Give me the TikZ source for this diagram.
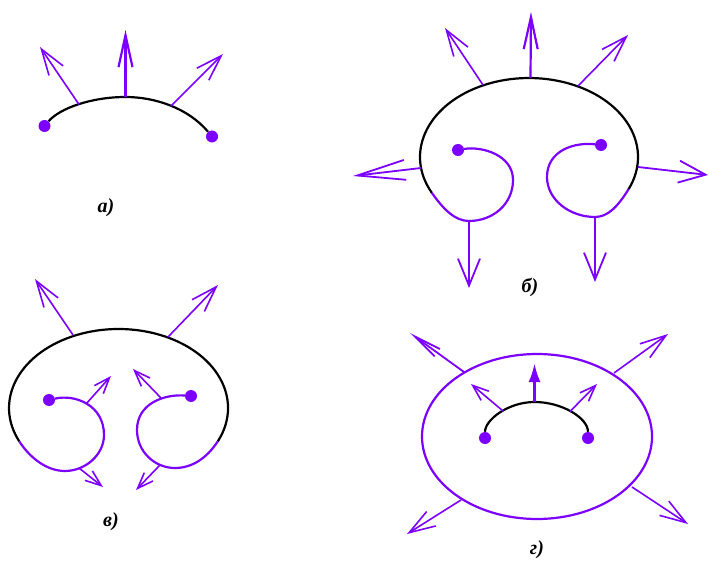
\documentclass[tikz,border=0pt]{standalone}
\usepackage{fontspec}
\setmainfont{Liberation Serif}
\usepackage{xcolor}
\usetikzlibrary{arrows.meta,shapes.geometric}
\definecolor{vecviolet}{RGB}{124,0,255}
\tikzset{
  vec/.style={-{Straight Barb[length=26pt,width=17pt]}, vecviolet, line width=1.6pt},
  vectop/.style={-{Straight Barb[length=32pt,width=14pt]}, vecviolet, line width=2.2pt},
  vecwide/.style={-{Straight Barb[length=27pt,width=22pt]}, vecviolet, line width=1.8pt},
  veclong/.style={-{Straight Barb[length=48pt,width=20pt]}, vecviolet, line width=1.8pt},
  vecslim/.style={-{Straight Barb[length=28pt,width=9pt]}, vecviolet, line width=1.8pt},
  vecsmall/.style={-{Straight Barb[length=16pt,width=12pt]}, vecviolet, line width=1.6pt},
  vecbold/.style={-{Latex[length=19pt,width=12pt]}, vecviolet, line width=3pt},
  fieldline/.style={black, line width=2.2pt},
  purpleline/.style={vecviolet, line width=2.2pt},
  endpt/.style={circle,fill=vecviolet,inner sep=0pt,minimum size=12pt},
  caption/.style={font=\bfseries\itshape\fontsize{20}{20}\selectfont,inner sep=0pt}
}

\begin{document}
\begin{tikzpicture}[x=1pt,y=-1pt]
  \useasboundingbox (0,0) rectangle (709,561);
  % а
  \node[endpt] (a0) at (44.5,126) {};
  \node[endpt] (a1) at (212,136.5) {};
  \coordinate (a2) at (79,104.5);
  \coordinate (a3) at (125.5,97);
  \coordinate (a4) at (171,106);
  \coordinate (a5) at (40,47);
  \coordinate (a6) at (125.5,30);
  \coordinate (a7) at (223,54);
  \draw[fieldline] (a0) .. controls (60,108) and (92,97) .. (a3) .. controls (155,97) and (188,108) .. (a1);
  \draw[vec] (a2) -- (a5);
  \draw[vectop] (a3) -- (a6);
  \draw[vec] (a4) -- (a7);
  \node[caption] (acap) at (106,208) {а)};
  % б
  \node[endpt] (b0) at (458,150) {};
  \node[endpt] (b1) at (601,145) {};
  \coordinate (b2) at (431.9,192.9);
  \coordinate (b3) at (628.6,189.1);
  \coordinate (b4) at (483,85);
  \coordinate (b5) at (530.5,78);
  \coordinate (b6) at (578,86);
  \coordinate (b7) at (421,168);
  \coordinate (b8) at (638,167);
  \coordinate (b9) at (469,221);
  \coordinate (b10) at (595,217);
  \coordinate (b11) at (445,28);
  \coordinate (b12) at (531,12);
  \coordinate (b13) at (628,35);
  \coordinate (b14) at (353,176);
  \coordinate (b15) at (708,175);
  \coordinate (b16) at (469,288);
  \coordinate (b17) at (595,282);
  \draw[fieldline] (b2) arc[start angle=153,end angle=384,x radius=109,y radius=79];
  \draw[purpleline] (b0) .. controls (482,146) and (513,155) .. (513,180) .. controls (513,204) and (493,221) .. (b9) .. controls (455,221) and (443.4,209.3) .. (b2);
  \draw[purpleline] (b1) .. controls (575,142) and (547,150) .. (547,177) .. controls (547,200) and (570,217) .. (b10) .. controls (608,217) and (618.1,206.1) .. (b3);
  \draw[vec] (b4) -- (b11);
  \draw[vectop] (b5) -- (b12);
  \draw[vec] (b6) -- (b13);
  \draw[veclong] (b7) -- (b14);
  \draw[vecwide] (b8) -- (b15);
  \draw[vecwide] (b9) -- (b16);
  \draw[vecwide] (b10) -- (b17);
  \node[caption] (bcap) at (530,287) {б)};
  % в
  \node[endpt] (c0) at (49,400) {};
  \node[endpt] (c1) at (191,396) {};
  \coordinate (c2) at (19.3,441.4);
  \coordinate (c3) at (217.7,441.4);
  \coordinate (c4) at (73,335);
  \coordinate (c5) at (168,337);
  \coordinate (c6) at (86,404);
  \coordinate (c7) at (161,398);
  \coordinate (c8) at (79,468);
  \coordinate (c9) at (160,465);
  \coordinate (c10) at (35,279);
  \coordinate (c11) at (218,285);
  \coordinate (c12) at (111,376);
  \coordinate (c13) at (133,369);
  \coordinate (c14) at (103,487);
  \coordinate (c15) at (136,490);
  \draw[fieldline] (c2) arc[start angle=155,end angle=385,x radius=109.5,y radius=79];
  \draw[purpleline] (c0) .. controls (75,394) and (104,405) .. (104,435) .. controls (104,455) and (85,471) .. (65,471) .. controls (47,471) and (30.2,458.2) .. (c2);
  \draw[purpleline] (c1) .. controls (165,394) and (137,403) .. (137,430) .. controls (137,452) and (155,468) .. (175,468) .. controls (192,468) and (206.8,458.2) .. (c3);
  \draw[vec] (c4) -- (c10);
  \draw[vec] (c5) -- (c11);
  \draw[vecsmall] (c6) -- (c12);
  \draw[vecsmall] (c7) -- (c13);
  \draw[vecsmall] (c8) -- (c14);
  \draw[vecsmall] (c9) -- (c15);
  \node[caption] (ccap) at (111,522) {в)};
  % г
  \node[ellipse,draw=vecviolet,line width=2.2pt,inner sep=0pt,minimum width=230pt,minimum height=165pt] (d0) at (537,436.5) {};
  \node[endpt] (d1) at (485,438) {};
  \node[endpt] (d2) at (588,438) {};
  \coordinate (d3) at (503,411);
  \coordinate (d4) at (534.5,402);
  \coordinate (d5) at (570,411.5);
  \coordinate (d6) at (464,372);
  \coordinate (d7) at (614,373);
  \coordinate (d8) at (461,500);
  \coordinate (d9) at (632,487);
  \coordinate (d10) at (410,333);
  \coordinate (d11) at (668,334);
  \coordinate (d12) at (407,534);
  \coordinate (d13) at (688,524);
  \coordinate (d14) at (471,384);
  \coordinate (d15) at (534.5,363);
  \coordinate (d16) at (597,384);
  \draw[fieldline] (d1) .. controls (485,420) and (508,402) .. (d4) .. controls (562,402) and (588,418) .. (d2);
  \draw[vecslim] (d6) -- (d10);
  \draw[vec] (d7) -- (d11);
  \draw[vec] (d8) -- (d12);
  \draw[vec] (d9) -- (d13);
  \draw[vecsmall] (d3) -- (d14);
  \draw[vecbold] (d4) -- (d15);
  \draw[vecsmall] (d5) -- (d16);
  \node[caption] (dcap) at (537,550) {г)};
\end{tikzpicture}
\end{document}
